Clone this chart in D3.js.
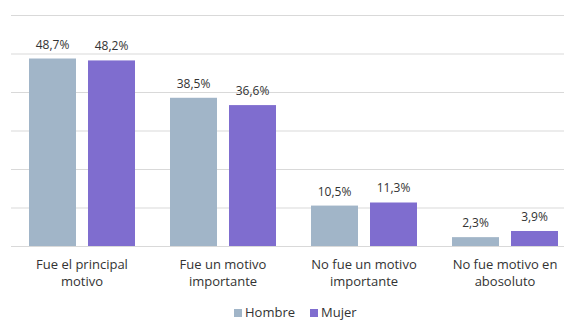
<!DOCTYPE html>
<html>
<head>
<meta charset="utf-8">
<script src="https://cdn.jsdelivr.net/npm/d3@7"></script>
<style>
  body { margin: 0; background: #fff; }
  svg { display: block; font-family: "Open Sans", Lato, sans-serif; }
</style>
</head>
<body>
<svg id="chart" width="564" height="320"></svg>
<script>
/** Chart data */
var categories = [
    ["Fue el principal", "motivo"],
    ["Fue un motivo", "importante"],
    ["No fue un motivo", "importante"],
    ["No fue motivo en", "abosoluto"]
];
var seriesNames = ["Hombre", "Mujer"];
var hombre = [48.7, 38.5, 10.5, 2.3];
var mujer = [48.2, 36.6, 11.3, 3.9];
var yTicks = [0, 10, 20, 30, 40, 50, 60];

var colors = { "Hombre": "#a1b5c8", "Mujer": "#7f6dcf" };

var svg = d3.select("#chart");

var catKeys = categories.map(function (d, i) { return i; });

// Scales
var x = d3.scaleBand()
    .domain(catKeys)
    .range([11.5, 575.5])
    .padding(0);

var xSub = d3.scaleBand()
    .domain(seriesNames)
    .range([17.5, 123.5])
    .paddingInner(12 / 59)
    .paddingOuter(0);

var y = d3.scaleLinear()
    .domain([0, 60])
    .range([246, 15]);

// Gridlines
var yAxis = d3.axisLeft(y)
    .tickValues(yTicks)
    .tickSize(-(564 - 11))
    .tickFormat("");

var grid = svg.append("g")
    .attr("transform", "translate(11,0)")
    .call(yAxis);
grid.select(".domain").remove();
grid.selectAll("line")
    .attr("stroke", "#d9d9d9")
    .attr("stroke-width", 1.2);

// Bars
var rows = catKeys.map(function (i) {
    return [
        { cat: i, name: "Hombre", value: hombre[i] },
        { cat: i, name: "Mujer", value: mujer[i] }
    ];
});

var groups = svg.append("g").selectAll("g")
    .data(rows)
    .enter()
    .append("g")
    .attr("transform", function (d, i) { return "translate(" + x(i) + ",0)"; });

groups.selectAll("rect")
    .data(function (d) { return d; })
    .enter()
    .append("rect")
    .attr("x", function (d) { return xSub(d.name); })
    .attr("y", function (d) { return y(d.value); })
    .attr("width", xSub.bandwidth())
    .attr("height", function (d) { return y(0) - y(d.value); })
    .attr("fill", function (d) { return colors[d.name]; });

groups.selectAll("text.val")
    .data(function (d) { return d; })
    .enter()
    .append("text")
    .attr("class", "val")
    .attr("x", function (d) { return xSub(d.name) + xSub.bandwidth() / 2; })
    .attr("y", function (d) { return y(d.value) - 10; })
    .attr("text-anchor", "middle")
    .attr("font-size", 12)
    .attr("fill", "#333")
    .text(function (d) { return d.value.toFixed(1).replace(".", ",") + "%"; });

// Category labels
var labels = svg.append("g").selectAll("text")
    .data(categories)
    .enter()
    .append("text")
    .attr("text-anchor", "middle")
    .attr("font-size", 13)
    .attr("fill", "#333")
    .attr("transform", function (d, i) {
        return "translate(" + (x(i) + x.bandwidth() / 2) + ",269)";
    });

labels.selectAll("tspan")
    .data(function (d) { return d; })
    .enter()
    .append("tspan")
    .attr("x", 0)
    .attr("dy", function (d, i) { return i === 0 ? 0 : 17; })
    .text(function (d) { return d; });

// Legend
var legendPos = [234, 310];
var legend = svg.append("g").selectAll("g")
    .data(seriesNames)
    .enter()
    .append("g")
    .attr("transform", function (d, i) { return "translate(" + legendPos[i] + ",0)"; });

legend.append("rect")
    .attr("x", 0)
    .attr("y", 309)
    .attr("width", 8)
    .attr("height", 8)
    .attr("fill", function (d) { return colors[d]; });

legend.append("text")
    .attr("x", 11)
    .attr("y", 317)
    .attr("font-size", 13)
    .attr("fill", "#333")
    .text(function (d) { return d; });
</script>
</body>
</html>
